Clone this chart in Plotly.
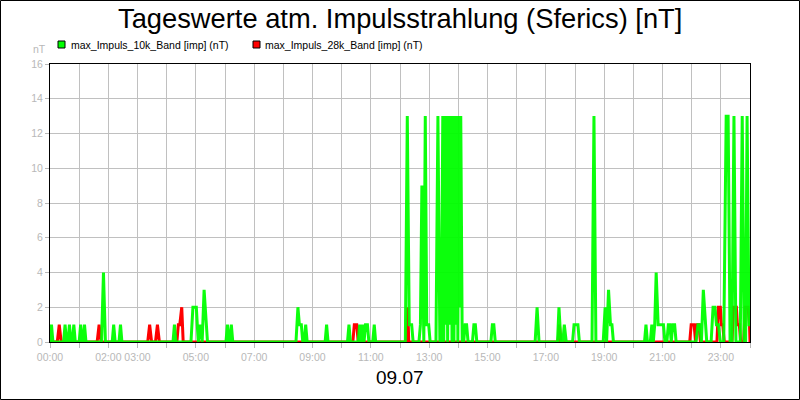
import plotly.graph_objects as go

# ---- data (minutes of day, values in nT) ----
t10 = [0, 3, 6, 28, 31, 34, 37, 40, 43, 46, 49, 52, 60, 63, 66, 68, 71, 74,
       106, 110, 114, 128, 131, 134, 142, 145, 148, 253, 256, 259,
       290, 294, 301, 305, 309, 313, 317, 321, 324,
       362, 365, 368, 370, 373, 376,
       506, 510, 513, 517, 520, 523, 526, 529,
       566, 569, 572, 612, 615, 618,
       634, 637, 640, 643, 646, 649, 653, 656, 664, 667, 670,
       731, 735, 739, 744, 747,
       759, 762, 765, 769, 772, 775, 779, 782,
       794, 798, 802,
       805, 808, 810, 812, 814, 816, 818, 821, 823, 825, 827, 829, 831, 833, 835, 837, 839, 841, 843, 845, 848,
       851, 854, 857, 860, 869, 872, 875, 878, 907, 910, 913, 916,
       998, 1002, 1006,
       1044, 1047, 1051, 1055, 1058, 1062,
       1075, 1078, 1082, 1086, 1089,
       1115, 1119, 1123,
       1138, 1142, 1145, 1149, 1153, 1156, 1159,
       1223, 1226, 1229,
       1235, 1238, 1241, 1244, 1247, 1251, 1255, 1259, 1262, 1265,
       1269, 1272, 1275, 1278, 1281, 1285, 1288,
       1329, 1333, 1337, 1340, 1344, 1348, 1351,
       1360, 1364, 1368, 1371, 1375, 1379,
       1386, 1391, 1395, 1399, 1403, 1407, 1411,
       1420, 1424, 1428, 1431, 1434, 1438, 1440]
v10 = [0, 1, 0, 0, 1, 0, 0, 1, 0, 0, 1, 0, 0, 1, 0, 0, 1, 0,
       0, 4, 0, 0, 1, 0, 0, 1, 0, 0, 1, 0,
       0, 2, 2, 0, 1, 0, 3, 1, 0,
       0, 1, 0, 0, 1, 0,
       0, 2, 1, 1, 0, 0, 1, 0,
       0, 1, 0, 0, 1, 0,
       0, 1, 0, 1, 0, 1, 1, 0, 0, 1, 0,
       0, 13, 1, 1, 0,
       0, 1, 9, 0, 13, 1, 1, 0,
       0, 13, 0,
       0, 13, 0, 13, 1, 13, 0, 13, 1, 13, 0, 13, 0, 13, 1, 13, 0, 13, 2, 13, 0,
       0, 1, 1, 0, 0, 1, 1, 0, 0, 1, 1, 0,
       0, 2, 0,
       0, 2, 0, 0, 1, 0,
       0, 1, 1, 1, 0,
       0, 13, 0,
       0, 2, 0, 3, 1, 1, 0,
       0, 1, 0,
       0, 1, 0, 1, 4, 1, 1, 1, 1, 0,
       0, 1, 1, 0, 1, 1, 0,
       0, 1, 1, 0, 3, 1, 0,
       0, 2, 2, 1, 1, 0,
       0, 13, 13, 0, 0, 13, 0,
       0, 13, 0, 0, 13, 1, 1]

t28 = [0, 15, 19, 23, 97, 101, 105, 201, 205, 209, 217, 221, 225,
       261, 264, 267, 271, 274,
       623, 626, 631, 634,
       733, 736, 738,
       1045, 1048, 1051,
       1316, 1319, 1325, 1328, 1331, 1335, 1338,
       1372, 1375, 1379, 1381, 1384, 1387,
       1403, 1406, 1412, 1414, 1418, 1421,
       1427, 1430, 1436, 1439, 1440]
v28 = [0, 0, 1, 0, 0, 1, 0, 0, 1, 0, 0, 1, 0,
       0, 1, 1, 2, 0,
       0, 1, 1, 0,
       0, 2, 0,
       0, 1, 0,
       0, 1, 1, 0, 1, 1, 0,
       0, 2, 2, 1, 1, 0,
       0, 2, 2, 1, 1, 0,
       0, 2, 2, 1, 0]

hour_ticks = list(range(0, 1441, 60))
hour_labels = ["00:00", "", "02:00", "03:00", "", "05:00", "", "07:00", "", "09:00", "",
               "11:00", "", "13:00", "", "15:00", "", "17:00", "", "19:00", "", "21:00",
               "", "23:00", ""]
y_ticks = [0, 2, 4, 6, 8, 10, 12, 14, 16]

series_names = ["max_Impuls_10k_Band [imp] (nT)", "max_Impuls_28k_Band [imp] (nT)"]
series_colors = ["#00ff00", "#ff0000"]
title_text = "Tageswerte atm. Impulsstrahlung (Sferics) [nT]"
date_text = "09.07"

FONT = "Liberation Sans, Arial, sans-serif"
GRAY = "#b8b8b8"

fig = go.Figure()
fig.add_trace(go.Scatter(x=t28, y=v28, mode="lines", name=series_names[1],
                         line=dict(color=series_colors[1], width=3), showlegend=False))
fig.add_trace(go.Scatter(x=t10, y=v10, mode="lines", name=series_names[0],
                         line=dict(color=series_colors[0], width=3), opacity=0.95,
                         showlegend=False))

W, H = 800, 400
L, R, T, B = 50, 50, 64, 58
pw, ph = W - L - R, H - T - B

def px(x):
    return (x - L) / pw

def py(y):
    return (H - B - y) / ph

shapes = [
    dict(type="rect", xref="paper", yref="paper", x0=px(0.5), x1=px(799.5),
         y0=py(399.5), y1=py(0.5), line=dict(color="black", width=1)),
]
annotations = [
    dict(text=title_text, x=0.5, y=py(19), xref="paper", yref="paper", showarrow=False,
         font=dict(family=FONT, size=27.3, color="black"), xanchor="center", yanchor="middle"),
    dict(text=date_text, x=0.5, y=py(377), xref="paper", yref="paper", showarrow=False,
         font=dict(family=FONT, size=19, color="black"), xanchor="center", yanchor="middle"),
    dict(text="nT", x=px(48), y=py(49), xref="paper", yref="paper", showarrow=False,
         font=dict(family=FONT, size=10.5, color=GRAY), xanchor="right", yanchor="middle"),
]
legend_pos = [(58, 69), (253, 263)]
for (sx, tx), name, col in zip(legend_pos, series_names, series_colors):
    shapes.append(dict(type="rect", xref="paper", yref="paper", x0=px(sx), x1=px(sx + 7),
                       y0=py(48), y1=py(41), fillcolor=col, line=dict(color="black", width=1)))
    annotations.append(dict(text=name, x=px(tx), y=py(44.5), xref="paper", yref="paper",
                            showarrow=False, xanchor="left", yanchor="middle",
                            font=dict(family=FONT, size=10.5, color="black")))

fig.update_layout(
    width=W, height=H, margin=dict(l=L, r=R, t=T, b=B, pad=0),
    paper_bgcolor="white", plot_bgcolor="white",
    shapes=shapes, annotations=annotations, showlegend=False,
    font=dict(family=FONT),
)
fig.update_xaxes(range=[0, 1440], tickmode="array", tickvals=hour_ticks, ticktext=hour_labels,
                 tickangle=0,
                 showgrid=True, gridcolor="#c0c0c0", gridwidth=1,
                 showline=True, linecolor="black", linewidth=1, mirror=True,
                 ticks="outside", ticklen=5, tickcolor=GRAY,
                 tickfont=dict(family=FONT, size=10.5, color=GRAY), zeroline=False)
fig.update_yaxes(range=[0, 16], tickmode="array", tickvals=y_ticks,
                 showgrid=True, gridcolor="#c0c0c0", gridwidth=1,
                 showline=True, linecolor="black", linewidth=1, mirror=True,
                 ticks="outside", ticklen=4, tickcolor=GRAY,
                 tickfont=dict(family=FONT, size=10.5, color=GRAY), zeroline=False)

fig.write_html("out.html", config={"displayModeBar": False})
